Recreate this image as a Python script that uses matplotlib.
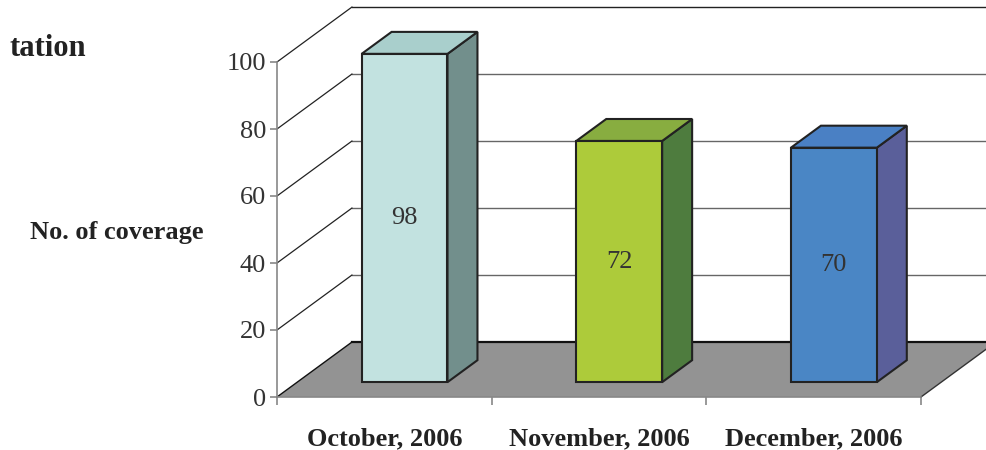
import matplotlib
matplotlib.use('Agg')
import matplotlib.pyplot as plt
from matplotlib.patches import Polygon

plt.rcParams['font.family'] = ['Liberation Serif', 'DejaVu Serif']

# data
categories = ['October, 2006', 'November, 2006', 'December, 2006']
coverage = [98, 72, 70]
y_ticks = [0, 20, 40, 60, 80, 100]
front_colors = ['#C2E2E0', '#ADCB3A', '#4A86C5']
top_colors = ['#A9CFCC', '#88AD40', '#4A80C4']
side_colors = ['#728F8C', '#4E7C3E', '#5A5F9A']

# pseudo-3d depth (in data units)
DX = 0.349
DY = 16.4
f0, f1 = 0.27, 0.67
bar_w = 0.4

fig = plt.figure(figsize=(9.86, 4.5), dpi=100)
ax = fig.add_axes([277 / 986, 53 / 450, 644 / 986, 335 / 450])
ax.set_xlim(-0.5, 2.5)
ax.set_ylim(0, 100)

x0, x1 = -0.5, len(categories) - 0.5

# back wall grid and left wall diagonals
for v in y_ticks[1:]:
    col = '#222222' if v == 100 else '#666666'
    ax.plot([x0 + DX, x1 + DX], [v + DY, v + DY], color=col, lw=1.0, clip_on=False, zorder=1)
    ax.plot([x0, x0 + DX], [v, v + DY], color='#222222', lw=0.9, clip_on=False, zorder=1)

# floor
floor = Polygon([(x0, 0), (x1, 0), (x1 + DX, DY), (x0 + DX, DY)], closed=True,
                facecolor='#939393', edgecolor='none', clip_on=False, zorder=2)
ax.add_patch(floor)
ax.plot([x0 + DX, x1 + DX], [DY, DY], color='#111111', lw=1.6, clip_on=False, zorder=2)
ax.plot([x0, x0 + DX], [0, DY], color='#111111', lw=1.0, clip_on=False, zorder=2)
ax.plot([x1, x1 + DX], [0, DY], color='#333333', lw=1.0, clip_on=False, zorder=2)

# bars
dd = f1 - f0
for i, v in enumerate(coverage):
    xl = i - bar_w / 2 + f0 * DX
    xr = i + bar_w / 2 + f0 * DX
    b = f0 * DY
    t = b + v
    front = Polygon([(xl, b), (xr, b), (xr, t), (xl, t)], closed=True,
                    facecolor=front_colors[i], edgecolor='#222222', lw=1.5,
                    clip_on=False, zorder=3, joinstyle='miter')
    side = Polygon([(xr, b), (xr + dd * DX, b + dd * DY), (xr + dd * DX, t + dd * DY), (xr, t)],
                   closed=True, facecolor=side_colors[i], edgecolor='#222222', lw=1.5,
                   clip_on=False, zorder=3, joinstyle='miter')
    top = Polygon([(xl, t), (xr, t), (xr + dd * DX, t + dd * DY), (xl + dd * DX, t + dd * DY)],
                  closed=True, facecolor=top_colors[i], edgecolor='#222222', lw=1.5,
                  clip_on=False, zorder=3, joinstyle='miter')
    ax.add_patch(side)
    ax.add_patch(top)
    ax.add_patch(front)
    ax.text((xl + xr) / 2, b + v / 2, str(v), ha='center', va='center',
            fontsize=19, color='#333333', zorder=4)

# axes styling
for s in ['top', 'right']:
    ax.spines[s].set_visible(False)
ax.spines['left'].set_color('#888888')
ax.spines['bottom'].set_color('#888888')
ax.spines['left'].set_linewidth(1.2)
ax.spines['bottom'].set_linewidth(1.2)
ax.set_yticks(y_ticks)
ax.set_yticklabels([str(t) for t in y_ticks], fontsize=19, color='#333333')
ax.tick_params(axis='y', length=5, width=1.2, color='#888888', pad=3)

ax.set_xticks([x0 + k for k in range(len(categories) + 1)])
ax.set_xticklabels([])
ax.tick_params(axis='x', which='major', length=6, width=1.2, color='#888888')
ax.set_xticks(range(len(categories)), minor=True)
ax.set_xticklabels(categories, minor=True, fontsize=19, fontweight='bold', color='#222222')
ax.tick_params(axis='x', which='minor', length=0, pad=22)
ax.patch.set_visible(False)

fig.text(117 / 986, 1 - 232 / 450, 'No. of coverage', ha='center', va='center',
         fontsize=19, fontweight='bold', color='#222222')
fig.text(86 / 986, 1 - 48 / 450, 'tation', ha='right', va='center',
         fontsize=22, fontweight='bold', color='#222222')

fig.savefig('out.png', dpi=100)
